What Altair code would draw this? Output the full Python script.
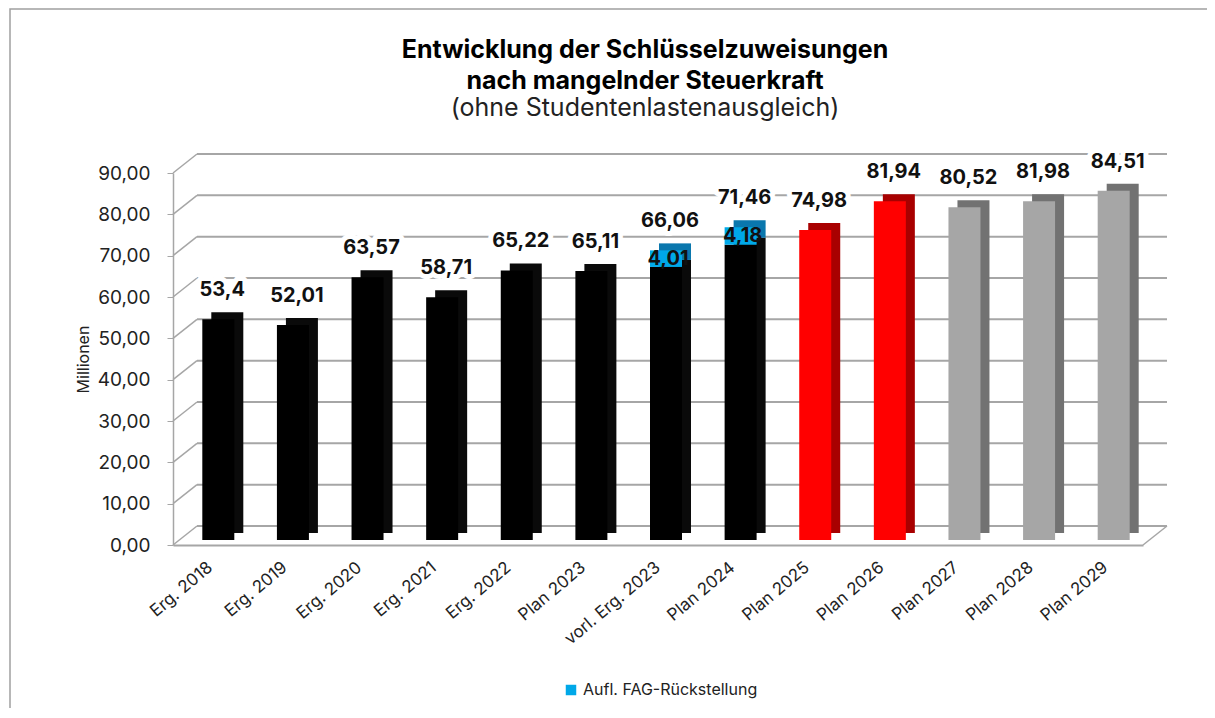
import altair as alt
import pandas as pd

categories = ["Erg. 2018", "Erg. 2019", "Erg. 2020", "Erg. 2021", "Erg. 2022",
              "Plan 2023", "vorl. Erg. 2023", "Plan 2024", "Plan 2025", "Plan 2026",
              "Plan 2027", "Plan 2028", "Plan 2029"]
values = [53.4, 52.01, 63.57, 58.71, 65.22, 65.11, 66.06, 71.46, 74.98, 81.94, 80.52, 81.98, 84.51]
fag = [0, 0, 0, 0, 0, 0, 4.01, 4.18, 0, 0, 0, 0, 0]
groups = ["Ist/Plan", "Ist/Plan", "Ist/Plan", "Ist/Plan", "Ist/Plan", "Ist/Plan", "Ist/Plan",
          "Ist/Plan", "Haushalt", "Haushalt", "Finanzplanung", "Finanzplanung", "Finanzplanung"]
ticks = [0, 10, 20, 30, 40, 50, 60, 70, 80, 90]
legend_name = "Aufl. FAG-Rückstellung"

df = pd.DataFrame({"cat": categories, "value": values, "fag": fag, "group": groups})
df["top"] = df["value"] + df["fag"]
df["label"] = df["value"].map(lambda v: str(v).replace(".", ","))
df["fag_label"] = df["fag"].map(lambda v: str(v).replace(".", ","))
df["series"] = legend_name
df_fag = df[df["fag"] > 0]
df_ticks = pd.DataFrame({"tick": ticks})
df_one = pd.DataFrame({"a": [0]})

W, H = 970, 372
DX, DY = 24, -19          # back-wall offset
BX, BY = 8, -5            # bar offset (mid depth)
SX, SY = 9, -7            # bar side depth
FONT = "Inter"
GRID = "#a6a6a6"

xs = alt.X("cat:N", sort=categories,
           scale=alt.Scale(paddingInner=0, paddingOuter=0),
           axis=alt.Axis(title=None, labelAngle=-40, labelAlign="right", labelBaseline="middle",
                         ticks=False, domainColor=GRID, domainWidth=2, labelFontSize=17,
                         labelPadding=20, labelColor="#222", labelFont=FONT, labelLimit=0))
ys = alt.Y("value:Q", scale=alt.Scale(domain=[0, 90], nice=False),
           axis=alt.Axis(values=ticks, grid=False,
                         labelExpr="replace(format(datum.value, '.2f'), '.', ',')",
                         domainColor=GRID, domainWidth=1.5, tickColor=GRID, tickSize=6,
                         labelFontSize=19, labelPadding=17, labelColor="#222", labelFont=FONT,
                         title="Millionen", titleX=-90, titleY=H / 2, titleFontSize=16,
                         titleFontWeight="normal", titleColor="#222", titleFont=FONT,
                         titleAlign="center", titleBaseline="middle"))

border = alt.Chart(df_one).mark_rect(fill=None, stroke="#a0a0a0", strokeWidth=1.5).encode(
    x=alt.value(-163), x2=alt.value(1080), y=alt.value(-164), y2=alt.value(600))

back_grid = alt.Chart(df_ticks).mark_rule(color=GRID, strokeWidth=2, yOffset=DY).encode(
    y=alt.Y("tick:Q", scale=alt.Scale(domain=[0, 90], nice=False)),
    x=alt.value(DX), x2=alt.value(W + DX))

side_grid = alt.Chart(df_ticks).mark_rule(color=GRID, strokeWidth=1.5, y2Offset=DY).encode(
    y=alt.Y("tick:Q"), y2=alt.Y2("tick:Q"), x=alt.value(0), x2=alt.value(DX))

floor_edge = alt.Chart(df_one).mark_rule(color=GRID, strokeWidth=1.5, y2Offset=DY).encode(
    y=alt.datum(0), y2=alt.datum(0), x=alt.value(W), x2=alt.value(W + DX))

bar_size = 32
depth = alt.Chart(df).mark_bar(size=bar_size, xOffset=BX + SX, yOffset=BY + SY, y2Offset=BY + SY).encode(
    x=xs, y=ys, y2=alt.datum(0),
    fill=alt.Fill("group:N", scale=alt.Scale(domain=["Ist/Plan", "Haushalt", "Finanzplanung"],
                                             range=["#0a0a0a", "#a80000", "#727272"]), legend=None))
front = alt.Chart(df).mark_bar(size=bar_size, xOffset=BX, yOffset=BY, y2Offset=BY).encode(
    x=xs, y=ys, y2=alt.datum(0),
    fill=alt.Fill("group:N", scale=alt.Scale(domain=["Ist/Plan", "Haushalt", "Finanzplanung"],
                                             range=["#000000", "#ff0000", "#a6a6a6"]), legend=None))
fag_depth = alt.Chart(df_fag).mark_bar(size=bar_size, xOffset=BX + SX, yOffset=BY + SY,
                                       y2Offset=BY + SY, color="#0a77ad").encode(
    x=xs, y="top:Q", y2="value:Q")
fag_front = alt.Chart(df_fag).mark_bar(size=bar_size, xOffset=BX, yOffset=BY, y2Offset=BY).encode(
    x=xs, y="top:Q", y2="value:Q",
    color=alt.Color("series:N", scale=alt.Scale(domain=[legend_name], range=["#00a8e8"]),
                    legend=alt.Legend(title=None, orient="none", legendX=390, legendY=509,
                                      symbolType="square", symbolSize=110, labelFontSize=16,
                                      labelFont=FONT, labelColor="#222", padding=0,
                                      labelLimit=0)))

halo = alt.Chart(df).mark_text(font=FONT, fontSize=20, fontWeight="bold", dx=BX + 4, dy=-34,
                               baseline="middle", stroke="white", strokeWidth=10,
                               strokeJoin="round", fill="white").encode(
    x=xs, y="top:Q", text="label:N")
labels = alt.Chart(df).mark_text(font=FONT, fontSize=20, fontWeight="bold", dx=BX + 4, dy=-34,
                                 baseline="middle", color="#111").encode(
    x=xs, y="top:Q", text="label:N")
fag_labels = alt.Chart(df_fag).mark_text(font=FONT, fontSize=20, fontWeight="bold", dx=BX + 2,
                                         dy=4, baseline="middle", color="#111").encode(
    x=xs, y="top:Q", text="fag_label:N")

chart = alt.layer(border, back_grid, side_grid, floor_edge, depth, front, fag_depth, fag_front,
                  halo, labels, fag_labels).resolve_scale(fill="independent").properties(
    width=W, height=H,
    autosize=alt.AutoSizeParams(type="none"),
    padding={"left": 165, "top": 165, "right": 64, "bottom": 163},
    title=alt.TitleParams(
        text=["Entwicklung der Schlüsselzuweisungen", "nach mangelnder Steuerkraft"],
        subtitle="(ohne Studentenlastenausgleich)",
        font=FONT, fontSize=25, fontWeight="bold", color="#000", lineHeight=31,
        subtitleFont=FONT, subtitleFontSize=25, subtitleFontWeight="normal",
        subtitleColor="#222", subtitlePadding=2,
        anchor="middle", dx=-13, offset=-113)
).configure_view(stroke=None)

chart.save("out.html", embed_options={"renderer": "svg", "actions": False})
